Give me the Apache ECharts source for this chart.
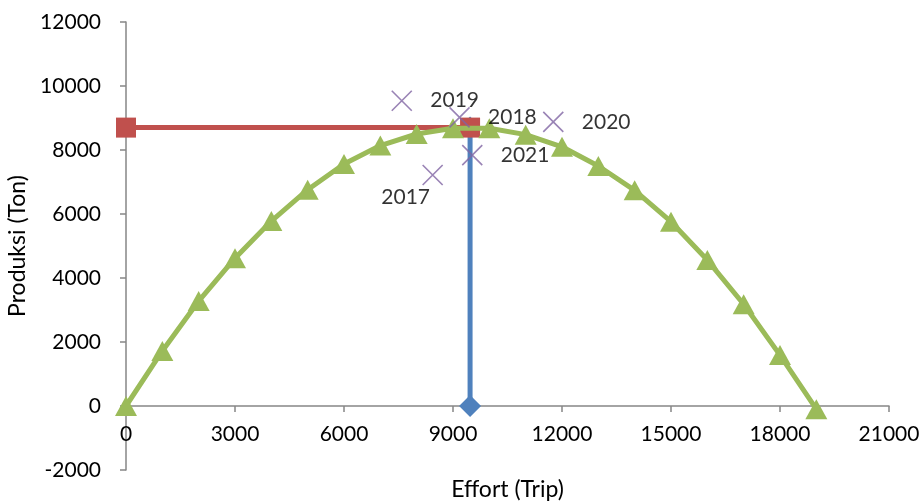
<!DOCTYPE html>
<html>
<head>
<meta charset="utf-8">
<script src="https://cdn.jsdelivr.net/npm/echarts@6/dist/echarts.min.js"></script>
<style>
html,body{margin:0;padding:0;background:#fff;}
#chart{width:921px;height:501px;}
</style>
</head>
<body>
<div id="chart"></div>
<script>
// Data
var effortCurve = [0,1000,2000,3000,4000,5000,6000,7000,8000,9000,10000,11000,12000,13000,14000,15000,16000,17000,18000,19000];
var prodCurve   = [0,1720,3280,4620,5780,6760,7560,8140,8500,8680,8680,8480,8100,7500,6740,5760,4560,3180,1590,-100];

var yearLabels  = ['2017','2018','2019','2020','2021'];
var yearEffort  = [8440,9180,7590,11760,9530];
var yearProd    = [7220,9020,9540,8880,7840];

var emsy = 9470;
var msy = 8700;

var xTicks = {min:0, max:21000, interval:3000};
var yTicks = {min:-2000, max:12000, interval:2000};

var FONT = 'Lato';
var curveData = effortCurve.map(function(e,i){return [e, prodCurve[i]];});
var labelOffsets = {'2017':{position:'inside',offset:[-27,22]}};
var yearData = yearLabels.map(function(l,i){
  var d = {value:[yearEffort[i], yearProd[i]], name:l};
  if (labelOffsets[l]) d.label = labelOffsets[l];
  return d;
});
function plain(v){return String(v);}

var GRID_TOP = 22, GRID_BOTTOM = 31, PLOT_H = 501 - GRID_TOP - GRID_BOTTOM;
// shift x axis up to y = 0
var zeroShift = PLOT_H * (0 - yTicks.min) / (yTicks.max - yTicks.min);

var chart = echarts.init(document.getElementById('chart'), null, {renderer:'canvas'});
chart.setOption({
  animation:false,
  backgroundColor:'#fff',
  grid:{left:126, right:32, top:GRID_TOP, bottom:GRID_BOTTOM, containLabel:false, outerBoundsMode:'none'},
  xAxis:{
    type:'value', min:xTicks.min, max:xTicks.max, interval:xTicks.interval,
    position:'bottom', offset:-zeroShift,
    name:'Effort (Trip)', nameLocation:'middle', nameGap:72,
    nameTextStyle:{fontFamily:FONT, fontSize:23, color:'#000'},
    axisLine:{onZero:false, lineStyle:{color:'#868686', width:1.5}},
    axisTick:{show:true, length:6, lineStyle:{color:'#868686', width:1.5}},
    axisLabel:{fontFamily:FONT, fontSize:21, color:'#000', margin:18, formatter:plain},
    splitLine:{show:false}
  },
  yAxis:{
    type:'value', min:yTicks.min, max:yTicks.max, interval:yTicks.interval,
    name:'Produksi (Ton)', nameLocation:'middle', nameGap:92,
    nameTextStyle:{fontFamily:FONT, fontSize:23, color:'#000'},
    axisLine:{show:true, onZero:false, lineStyle:{color:'#868686', width:1.5}},
    axisTick:{show:true, length:6, lineStyle:{color:'#868686', width:1.5}},
    axisLabel:{fontFamily:FONT, fontSize:21, color:'#000', margin:25, formatter:plain},
    splitLine:{show:false}
  },
  series:[
    {
      type:'line', name:'MSY',
      data:[[0,msy],[emsy,msy]],
      lineStyle:{color:'#C0504D', width:5},
      itemStyle:{color:'#C0504D'},
      symbol:'rect', symbolSize:20, z:2
    },
    {
      type:'line', name:'Emsy',
      data:[[emsy,0],[emsy,msy]],
      lineStyle:{color:'#4F81BD', width:5},
      itemStyle:{color:'#4F81BD'},
      symbol:'diamond', symbolSize:[22,22], showAllSymbol:true, z:1
    },
    {
      type:'line', name:'Kurva',
      data:curveData,
      lineStyle:{color:'#9BBB59', width:5},
      itemStyle:{color:'#9BBB59'},
      symbol:'triangle', symbolSize:[22,20], z:3
    },
    {
      type:'scatter', name:'Tahun',
      data:yearData,
      symbol:'path://M0,0L10,10M10,0L0,10', symbolSize:20,
      itemStyle:{color:'none', borderColor:'#8064A2', borderWidth:1.6},
      label:{show:true, position:'right', distance:16, formatter:'{b}', fontFamily:FONT, fontSize:21, color:'#000'},
      z:4
    }
  ]
});
</script>
</body>
</html>
